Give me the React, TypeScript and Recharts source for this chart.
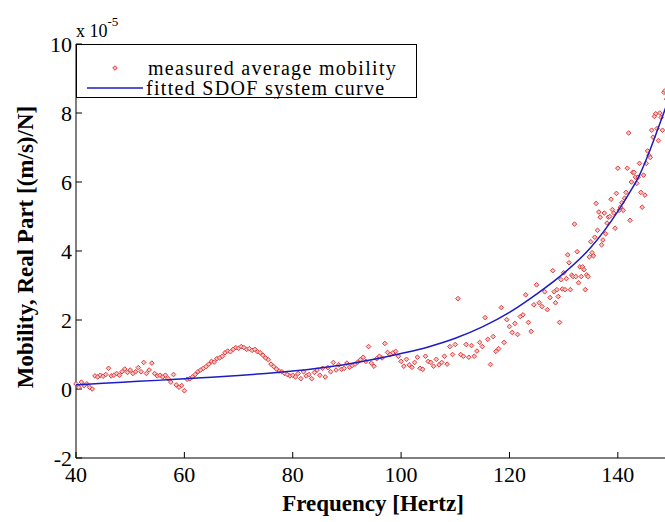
import React from 'react';
import { ScatterChart, Scatter, XAxis, YAxis, Legend } from 'recharts';

// measured average mobility (x 10^-5)
const measuredFreq = [
  40, 40.5, 41, 41.5, 42, 42.5, 43, 43.5, 44, 44.5,
  45, 45.5, 46, 46.5, 47, 47.5, 48, 48.5, 49, 49.5,
  50, 50.5, 51, 51.5, 52, 52.5, 53, 53.5, 54, 54.5,
  55, 55.5, 56, 56.5, 57, 57.5, 58, 58.5, 59, 59.5,
  60, 60.5, 61, 61.5, 62, 62.5, 63, 63.5, 64, 64.5,
  65, 65.5, 66, 66.5, 67, 67.5, 68, 68.5, 69, 69.5,
  70, 70.5, 71, 71.5, 72, 72.5, 73, 73.5, 74, 74.5,
  75, 75.5, 76, 76.5, 77, 77.5, 78, 78.5, 79, 79.5,
  80, 80.5, 81, 81.5, 82, 82.5, 83, 83.5, 84, 84.5,
  85, 85.5, 86, 86.5, 87, 87.5, 88, 88.5, 89, 89.5,
  90, 90.5, 91, 91.5, 92, 92.5, 93, 93.5, 94, 94.5,
  95, 95.5, 96, 96.5, 97, 97.5, 98, 98.5, 99, 99.5,
  100, 100.5, 101, 101.5, 102, 102.5, 103, 103.5, 104, 104.5,
  105, 105.5, 106, 106.5, 107, 107.5, 108, 108.5, 109, 109.5,
  110, 110.5, 111, 111.5, 112, 112.5, 113, 113.5, 114, 114.5,
  115, 115.5, 116, 116.5, 117, 117.5, 118, 118.5, 119, 119.5,
  120, 120.5, 121, 121.5, 122, 122.5, 123, 123.5, 124, 124.5,
  125, 125.5, 126, 126.5, 127, 127.5,
  128, 128.25, 128.5, 128.75, 129, 129.25, 129.5, 129.75, 130, 130.25, 130.5, 130.75,
  131, 131.25, 131.5, 131.75, 132, 132.25, 132.5, 132.75, 133, 133.25, 133.5, 133.75,
  134, 134.25, 134.5, 134.75, 135, 135.25, 135.5, 135.75, 136, 136.25, 136.5, 136.75,
  137, 137.25, 137.5, 137.75, 138, 138.25, 138.5, 138.75, 139, 139.25, 139.5, 139.75,
  140, 140.25, 140.5, 140.75, 141, 141.25, 141.5, 141.75, 142, 142.25, 142.5, 142.75,
  143, 143.25, 143.5, 143.75, 144, 144.25, 144.5, 144.75, 145, 145.25, 145.5, 145.75,
  146, 146.25, 146.5, 146.75, 147, 147.25, 147.5, 147.75, 148, 148.25, 148.5, 148.75,
  149,
];

const measuredMobility = [
  0.15, 0.05, 0.2, 0.1, 0.15, 0.05, 0.0, 0.38, 0.35, 0.4,
  0.37, 0.42, 0.6, 0.38, 0.4, 0.45, 0.4, 0.5, 0.58, 0.48,
  0.55, 0.45, 0.5, 0.62, 0.5, 0.77, 0.45, 0.55, 0.75, 0.45,
  0.38, 0.4, 0.35, 0.4, 0.3, 0.2, 0.42, 0.12, 0.05, 0.1,
  -0.05, 0.28, 0.3, 0.35, 0.42, 0.5, 0.55, 0.6, 0.65, 0.72,
  0.8, 0.78, 0.88, 0.9, 0.95, 1.05, 1.1, 1.08, 1.15, 1.2,
  1.18, 1.23, 1.2, 1.15, 1.17, 1.12, 1.15, 1.08, 1.05, 0.98,
  0.9, 0.85, 0.72, 0.65, 0.58, 0.52, 0.5, 0.45, 0.42, 0.38,
  0.4, 0.35, 0.45, 0.3, 0.5, 0.38, 0.42, 0.3, 0.48, 0.55,
  0.4, 0.6, 0.35, 0.62, 0.5, 0.77, 0.55, 0.7, 0.57, 0.6,
  0.75, 0.63, 0.68, 0.72, 0.78, 0.85, 0.92, 0.8, 1.23, 0.75,
  0.66, 0.88, 0.95, 0.9, 1.32, 1.06, 1.0, 1.05, 1.09, 0.95,
  0.8, 0.66, 0.86, 0.7, 0.63, 0.77, 0.92, 0.6, 0.57, 0.95,
  0.8, 0.77, 0.66, 0.86, 0.7, 0.77, 0.95, 0.72, 1.23, 1.0,
  1.29, 2.62, 1.0, 0.95, 1.29, 0.92, 1.26, 0.95, 1.1, 1.35,
  1.23, 2.07, 1.44, 0.71, 1.52, 1.09, 1.17, 2.36, 1.35, 2.01,
  1.81, 1.64, 1.9, 1.58, 2.1, 2.15, 2.73, 1.93, 1.67, 2.44,
  3.02, 2.5, 2.39, 2.82, 2.3, 2.65,
  3.43, 2.82, 2.5, 2.88, 2.68, 1.93, 3.17, 2.9, 3.37, 2.88, 3.2, 3.89,
  3.66, 2.88, 3.3, 3.26, 4.78, 3.26, 3.98, 3.08, 3.54, 3.26, 3.54, 3.46,
  2.88, 3.31, 3.26, 3.83, 4.27, 3.95, 3.86, 4.4, 5.38, 4.6, 5.13, 4.98,
  4.18, 4.32, 5.1, 4.5, 4.81, 4.98, 5.0, 5.5, 5.2, 5.1, 4.66, 5.67,
  6.4, 5.18, 5.27, 5.4, 5.18, 5.53, 5.7, 6.4, 7.42, 4.89, 6.0, 6.28,
  6.28, 6.14, 5.96, 6.14, 6.54, 5.7, 5.27, 6.2, 5.62, 6.54, 6.9, 6.77,
  6.71, 7.5, 7.3, 7.9, 7.98, 7.55, 7.2, 8.0, 7.87, 7.5, 8.6, 8.65,
  8.4,
];

// fitted SDOF system curve
const fitFreq = [40, 45, 50, 55, 60, 65, 70, 75, 80, 85, 90, 95, 100, 105, 110, 115, 120, 125, 130, 135, 140, 142, 144, 146, 148, 150];
const fitMobility = [0.12, 0.17, 0.21, 0.25, 0.3, 0.34, 0.39, 0.45, 0.52, 0.61, 0.72, 0.86, 1.03, 1.22, 1.47, 1.8, 2.22, 2.75, 3.35, 4.1, 5.15, 5.65, 6.2, 6.95, 7.8, 8.65];

const xTicks = [40, 60, 80, 100, 120, 140];
const yTicks = [-2, 0, 2, 4, 6, 8, 10];

const measured = measuredFreq.map((f, i) => ({ f, v: measuredMobility[i] }));
const fitted = fitFreq.map((f, i) => ({ f, v: fitMobility[i] }));

const FONT = '"Liberation Serif", "Times New Roman", serif';
const RED = '#e23b3b';
const BLUE = '#1c1cc4';

const Diamond = (props: any) => {
  const { cx, cy } = props;
  if (cx == null || cy == null) return null;
  const r = 2.3;
  return (
    <polygon
      points={`${cx},${cy - r} ${cx + r},${cy} ${cx},${cy + r} ${cx - r},${cy}`}
      fill="#f7c4c4"
      stroke={RED}
      strokeWidth={1}
    />
  );
};

const YTitle = () => (
  <g fontFamily={FONT} fill="#000">
    <text
      x={25}
      y={247}
      transform="rotate(-90 25 247)"
      textAnchor="middle"
      dominantBaseline="central"
      fontWeight="bold"
      fontSize={23}
    >
      Mobility, Real Part [(m/s)/N]
    </text>
    <text x={76} y={37} fontSize={18}>
      x 10
      <tspan dy={-11} fontSize={13}>
        -5
      </tspan>
    </text>
  </g>
);

const XTitle = () => (
  <text x={373} y={511} textAnchor="middle" fontFamily={FONT} fontWeight="bold" fontSize={23} fill="#000">
    Frequency [Hertz]
  </text>
);

const LegendBox = () => (
  <svg width={342} height={55} style={{ display: 'block', fontFamily: FONT }}>
    <rect x={0.5} y={0.5} width={340} height={53} fill="#fff" stroke="#000" strokeWidth={1} />
    <Diamond cx={39} cy={24} />
    <text x={72} y={24} fontSize={20} letterSpacing={1.3} dominantBaseline="central" fill="#000">
      measured average mobility
    </text>
    <line x1={11} x2={67} y1={44} y2={44} stroke={BLUE} strokeWidth={1.5} />
    <text x={70} y={44} fontSize={20} letterSpacing={1.3} dominantBaseline="central" fill="#000">
      fitted SDOF system curve
    </text>
  </svg>
);

const tickStyle = { fontFamily: FONT, fontSize: 22, fill: '#000' };

const App: React.FC = () => {
  return (
    <div
      style={{
        position: 'absolute',
        left: 0,
        top: 0,
        width: 665,
        height: 522,
        overflow: 'hidden',
        background: '#fff',
        fontFamily: FONT,
      }}
    >
      <ScatterChart width={680} height={522} margin={{ top: 44, right: 8, bottom: 0, left: 0 }}>
        <XAxis
          xAxisId="bottom"
          type="number"
          dataKey="f"
          domain={[40, 150]}
          ticks={xTicks}
          height={64}
          tickSize={-6}
          tickMargin={14}
          tick={tickStyle}
          axisLine={{ stroke: '#000' }}
          tickLine={{ stroke: '#000' }}
          label={<XTitle />}
        />
        <XAxis
          xAxisId="top"
          orientation="top"
          type="number"
          dataKey="f"
          domain={[40, 150]}
          ticks={xTicks}
          height={0}
          tickSize={-6}
          tick={false}
          axisLine={{ stroke: '#000' }}
          tickLine={{ stroke: '#000' }}
        />
        <YAxis
          type="number"
          dataKey="v"
          domain={[-2, 10]}
          ticks={yTicks}
          width={76}
          tickSize={-6}
          tickMargin={10}
          tick={tickStyle}
          axisLine={{ stroke: '#000' }}
          tickLine={{ stroke: '#000' }}
          label={<YTitle />}
        />
        <Legend
          layout="horizontal"
          verticalAlign="middle"
          align="center"
          wrapperStyle={{ left: 76, top: 44, width: 342, height: 55 }}
          content={<LegendBox />}
        />
        <Scatter
          xAxisId="bottom"
          name="measured average mobility"
          data={measured}
          shape={<Diamond />}
          isAnimationActive={false}
        />
        <Scatter
          xAxisId="bottom"
          name="fitted SDOF system curve"
          data={fitted}
          line={{ stroke: BLUE, strokeWidth: 1.5 }}
          lineJointType="monotoneX"
          shape={() => <g />}
          isAnimationActive={false}
        />
      </ScatterChart>
    </div>
  );
};

export default App;
